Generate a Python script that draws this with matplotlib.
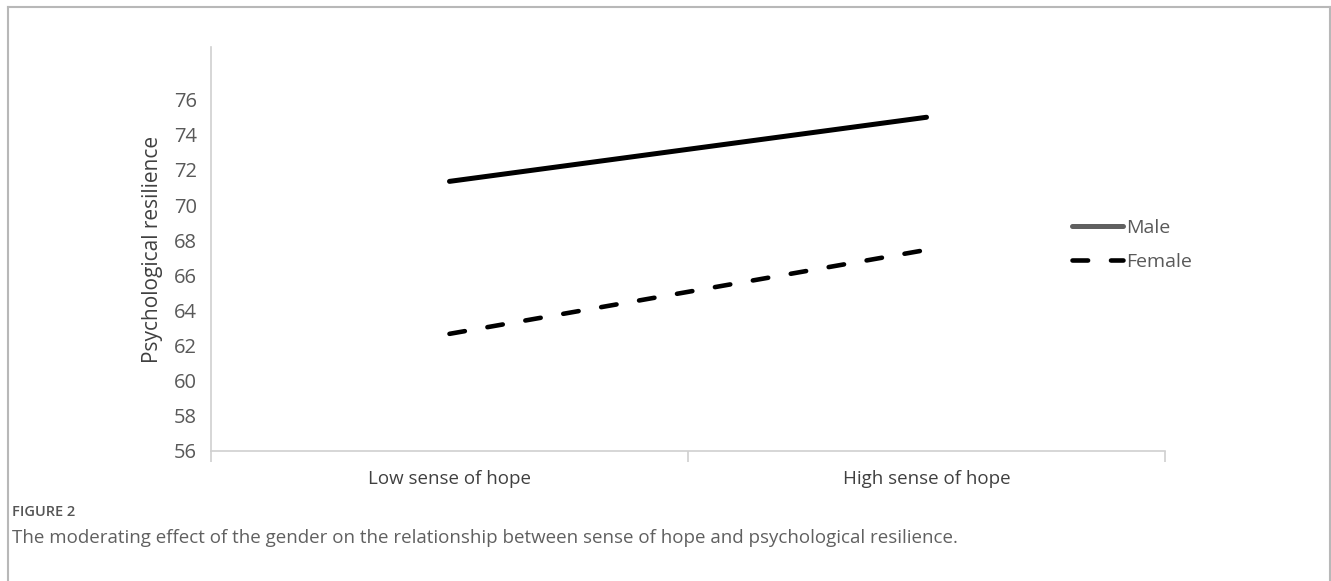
import matplotlib
matplotlib.use("Agg")
import matplotlib.pyplot as plt
from matplotlib.lines import Line2D

categories = ["Low sense of hope", "High sense of hope"]
male = [71.35, 75.0]
female = [62.67, 67.45]
yticks = [56, 58, 60, 62, 64, 66, 68, 70, 72, 74, 76]
ylabel = "Psychological resilience"
legend_labels = ["Male", "Female"]
fig_label = "FIGURE 2"
caption = ("The moderating effect of the gender on the relationship between "
           "sense of hope and psychological resilience.")

plt.rcParams['font.family'] = ['Open Sans', 'DejaVu Sans']

W, H = 1331, 581
fig = plt.figure(figsize=(W / 100, H / 100), dpi=100)
fig.patch.set_facecolor("white")

def fx(px):
    return px / W

def fy(py):
    return 1 - py / H

ax = fig.add_axes([fx(211), fy(451), fx(1165) - fx(211), fy(47) - fy(451)])

x = list(range(len(categories)))
ax.plot(x, male, color="black", lw=3.6, solid_capstyle="round")
ax.plot(x, female, color="black", lw=3.3, dashes=(3.4, 5.0),
        dash_capstyle="round")

ax.set_xlim(-0.5, len(categories) - 0.5)
ax.set_ylim(56, 79)
ax.set_yticks(yticks)
ax.set_yticklabels([str(v) for v in yticks], fontsize=14.5, color="#595959")
ax.tick_params(axis="y", length=0, pad=10)

ax.set_xticks([i - 0.5 for i in range(len(categories) + 1)])
ax.set_xticklabels([])
ax.set_xticks(x, minor=True)
ax.set_xticklabels(categories, minor=True, fontsize=13.5, color="#404040")
ax.tick_params(axis="x", which="major", length=8, color="#d0d0d0", width=1.2)
ax.tick_params(axis="x", which="minor", length=0, pad=14)

for s in ["top", "right"]:
    ax.spines[s].set_visible(False)
for s in ["left", "bottom"]:
    ax.spines[s].set_color("#d0d0d0")
    ax.spines[s].set_linewidth(1.2)

ax.set_ylabel(ylabel, fontsize=15, color="#404040", labelpad=8)

handles = [Line2D([], [], color="#606060", lw=3.6, solid_capstyle="round"),
           Line2D([], [], color="black", lw=3.3, dashes=(3.4, 5.0),
                  dash_capstyle="round")]
leg = fig.legend(handles, legend_labels, loc="center left",
                 bbox_to_anchor=(fx(1054), fy(245)), frameon=False,
                 fontsize=14, handlelength=2.65, handletextpad=0.15,
                 labelspacing=0.85)
for t in leg.get_texts():
    t.set_color("#595959")

# outer frame
fc = "#b8b8b8"
fig.add_artist(Line2D([fx(8), fx(8)], [fy(7), 0], color=fc, lw=1.5))
fig.add_artist(Line2D([fx(8), fx(1330)], [fy(7), fy(7)], color=fc, lw=1.5))
fig.add_artist(Line2D([fx(1330), fx(1330)], [fy(7), 0], color=fc, lw=1.5))

fig.text(fx(12), fy(512), fig_label, fontsize=10.5, color="#555555",
         fontweight="semibold", va="center", ha="left")
fig.text(fx(12), fy(538), caption, fontsize=13.5, color="#606060",
         va="center", ha="left")

fig.savefig("out.png", dpi=100, facecolor="white")
